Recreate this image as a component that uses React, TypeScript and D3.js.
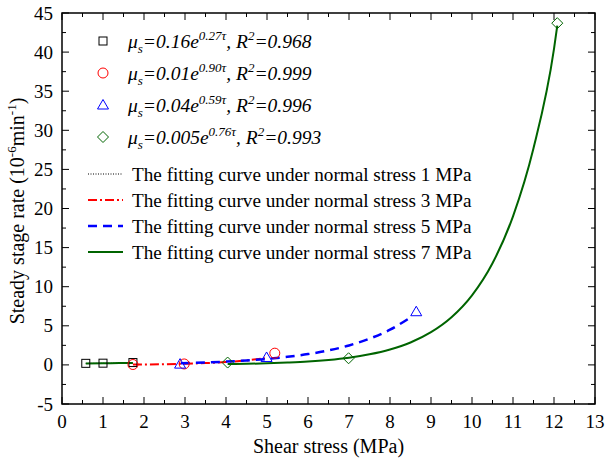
import React from "react";
import * as d3 from "d3";

// ---------- data ----------
const xTicks = [0, 1, 2, 3, 4, 5, 6, 7, 8, 9, 10, 11, 12, 13];
const yTicks = [-5, 0, 5, 10, 15, 20, 25, 30, 35, 40, 45];

// measured points
const pts1 = [[0.58, 0.2], [1.0, 0.22], [1.73, 0.3]];
const pts3 = [[1.73, 0.05], [2.98, 0.12], [5.19, 1.5]];
const pts5 = [[2.88, 0.1], [4.99, 0.95], [8.64, 6.8]];
const pts7 = [[4.04, 0.3], [6.99, 0.85], [12.08, 43.7]];

// fitting curves
const fit1 = [[0.58, 0.19], [1.0, 0.21], [1.4, 0.23], [1.73, 0.25]];
const fit3 = [[1.73, 0.05], [2.0, 0.06], [2.5, 0.09], [3.0, 0.15], [3.5, 0.23], [4.0, 0.37], [4.5, 0.57], [4.95, 0.86]];
const fit5 = [[2.9, 0.22], [3.5, 0.32], [4.0, 0.42], [4.5, 0.57], [5.0, 0.76], [5.5, 1.03], [6.0, 1.38], [6.5, 1.85], [7.0, 2.49], [7.5, 3.35], [8.0, 4.5], [8.45, 5.9]];
const fit7 = [[4.04, 0.1], [4.5, 0.14], [5.0, 0.2], [5.5, 0.3], [6.0, 0.43], [6.5, 0.63], [7.0, 0.92], [7.5, 1.35], [8.0, 1.97], [8.5, 2.87], [9.0, 4.19], [9.5, 6.1], [10.0, 8.9], [10.5, 13.0], [11.0, 19.0], [11.5, 27.7], [12.0, 40.4], [12.08, 43.4]];

const fitA = ["0.16", "0.01", "0.04", "0.005"];
const fitB = ["0.27", "0.90", "0.59", "0.76"];
const fitR2 = ["0.968", "0.999", "0.996", "0.993"];
const curveLabels = [
  "The fitting curve under normal stress 1 MPa",
  "The fitting curve under normal stress 3 MPa",
  "The fitting curve under normal stress 5 MPa",
  "The fitting curve under normal stress 7 MPa",
];

const FONT = "Liberation Serif";

export default function App() {
  const W = 610, H = 468;
  const L = 62, R = 595, T = 13, B = 404;
  const x = d3.scaleLinear().domain([0, 13]).range([L, R]);
  const y = d3.scaleLinear().domain([-5, 45]).range([B, T]);
  const line = d3.line<number[]>().x(d => x(d[0])).y(d => y(d[1])).curve(d3.curveMonotoneX);

  const xMinor = d3.range(0, 13.01, 0.5);
  const yMinor = d3.range(-5, 45.01, 2.5);
  const MAJ = 7, MIN = 4;

  const stroke = { fill: "none", strokeWidth: 1 };
  const ts = { fontFamily: FONT };

  const square = (cx: number, cy: number, c: string, k: string) => (
    <rect key={k} x={cx - 4} y={cy - 4} width={8} height={8} fill="none" stroke={c} strokeWidth={1} />
  );
  const circle = (cx: number, cy: number, c: string, k: string) => (
    <circle key={k} cx={cx} cy={cy} r={5} fill="none" stroke={c} strokeWidth={1} />
  );
  const tri = (cx: number, cy: number, c: string, k: string) => (
    <path key={k} d={`M${cx},${cy - 5.5}L${cx + 5.5},${cy + 4}L${cx - 5.5},${cy + 4}Z`} fill="none" stroke={c} strokeWidth={1} />
  );
  const dia = (cx: number, cy: number, c: string, k: string) => (
    <path key={k} d={`M${cx},${cy - 5.5}L${cx + 5.5},${cy}L${cx},${cy + 5.5}L${cx - 5.5},${cy}Z`} fill="none" stroke={c} strokeWidth={1} />
  );

  const markers = [
    { pts: pts1, f: square, c: "#000" },
    { pts: pts3, f: circle, c: "#ff0000" },
    { pts: pts5, f: tri, c: "#0000ff" },
    { pts: pts7, f: dia, c: "#006400" },
  ];

  const lineStyles = [
    { c: "#000", w: 1, dash: "1,1.5" },
    { c: "#ff0000", w: 2, dash: "9,3,2,3" },
    { c: "#0000ff", w: 2.5, dash: "9,6" },
    { c: "#006400", w: 2, dash: "" },
  ];

  const legY = [41, 73, 105, 137];
  const lineLegY = [174, 200, 226, 252];

  return (
    <svg width={W} height={H} style={{ position: "absolute", left: 0, top: 0, background: "#fff", fontFamily: FONT }}>
      {/* curves */}
      <path d={line(fit1)!} {...stroke} stroke="#000" strokeDasharray="1,1.5" />
      <path d={line(fit1)!} {...stroke} stroke="#006400" strokeWidth={2} />
      <path d={line(fit3)!} {...stroke} stroke="#ff0000" strokeWidth={2} strokeDasharray="9,3,2,3" />
      <path d={line(fit7)!} {...stroke} stroke="#006400" strokeWidth={2} />
      <path d={line(fit5)!} {...stroke} stroke="#0000ff" strokeWidth={2.5} strokeDasharray="9,6" />

      {/* markers */}
      {markers.map((m, i) => m.pts.map((p, j) => m.f(x(p[0]), y(p[1]), m.c, `m${i}-${j}`)))}

      {/* frame */}
      <rect x={L} y={T} width={R - L} height={B - T} fill="none" stroke="#000" strokeWidth={1.5} />

      {/* ticks */}
      {xMinor.map((v, i) => {
        const len = Math.abs(v - Math.round(v)) < 1e-6 ? MAJ : MIN;
        return (
          <g key={`xt${i}`} stroke="#000" strokeWidth={1}>
            <line x1={x(v)} x2={x(v)} y1={B} y2={B - len} />
            <line x1={x(v)} x2={x(v)} y1={T} y2={T + len} />
          </g>
        );
      })}
      {yMinor.map((v, i) => {
        const len = Math.abs(v / 5 - Math.round(v / 5)) < 1e-6 ? MAJ : MIN;
        return (
          <g key={`yt${i}`} stroke="#000" strokeWidth={1}>
            <line x1={L} x2={L + len} y1={y(v)} y2={y(v)} />
            <line x1={R} x2={R - len} y1={y(v)} y2={y(v)} />
          </g>
        );
      })}

      {/* tick labels */}
      {xTicks.map(v => (
        <text key={`xl${v}`} style={ts} x={x(v)} y={B + 24} textAnchor="middle" fontSize={19}>{v}</text>
      ))}
      {yTicks.map(v => (
        <text key={`yl${v}`} style={ts} x={L - 9} y={y(v) + 6.5} textAnchor="end" fontSize={19}>{v}</text>
      ))}

      {/* axis titles */}
      <text style={ts} x={(L + R) / 2} y={453} textAnchor="middle" fontSize={20}>Shear stress (MPa)</text>
      <text style={ts} transform={`translate(24,211) rotate(-90)`} textAnchor="middle" fontSize={20}>
        Steady stage rate (10<tspan dy={-8} fontSize={13}>-6</tspan><tspan dy={8}>min</tspan>
        <tspan dy={-8} fontSize={13}>-1</tspan><tspan dy={8}>)</tspan>
      </text>

      {/* legend: markers with formulas */}
      {markers.map((m, i) => (
        <g key={`lg${i}`}>
          {m.f(103, legY[i], m.c, `lgm${i}`)}
          <text style={ts} x={128} y={legY[i] + 7} fontSize={19.5} fontStyle="italic">
            μ<tspan dy={5} fontSize={13}>s</tspan>
            <tspan dy={-5}>={fitA[i]}e</tspan>
            <tspan dy={-8} fontSize={13}>{fitB[i]}τ</tspan>
            <tspan dy={8}>, R</tspan>
            <tspan dy={-8} fontSize={13}>2</tspan>
            <tspan dy={8}>={fitR2[i]}</tspan>
          </text>
        </g>
      ))}

      {/* legend: curves */}
      {lineStyles.map((s, i) => (
        <g key={`ll${i}`}>
          <line x1={88} x2={123} y1={lineLegY[i]} y2={lineLegY[i]} stroke={s.c} strokeWidth={s.w} strokeDasharray={s.dash || undefined} />
          <text style={ts} x={132} y={lineLegY[i] + 7} fontSize={19.2}>{curveLabels[i]}</text>
        </g>
      ))}
    </svg>
  );
}
